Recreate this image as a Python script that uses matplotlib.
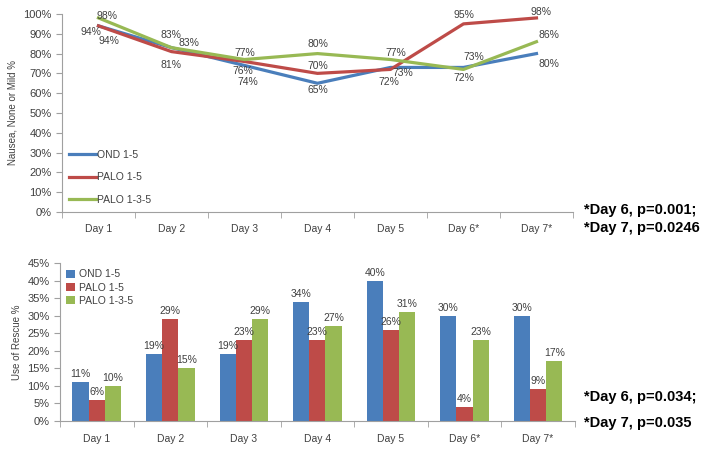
import matplotlib.pyplot as plt
import numpy as np
from matplotlib.ticker import FuncFormatter, FixedLocator

plt.rcParams['font.family'] = ['Liberation Sans', 'DejaVu Sans']

days = ['Day 1', 'Day 2', 'Day 3', 'Day 4', 'Day 5', 'Day 6*', 'Day 7*']
series = ['OND 1-5', 'PALO 1-5', 'PALO 1-3-5']
colors = ['#4a7ebb', '#be4b48', '#98b954']

# nausea none or mild, %
nausea_ond = [94, 83, 74, 65, 73, 73, 80]
nausea_palo = [94, 81, 76, 70, 72, 95, 98]
nausea_palo135 = [98, 83, 77, 80, 77, 72, 86]

# use of rescue, %
rescue_ond = [11, 19, 19, 34, 40, 30, 30]
rescue_palo = [6, 29, 23, 23, 26, 4, 9]
rescue_palo135 = [10, 15, 29, 27, 31, 23, 17]

# label offsets in pixels (dx, dy) for the line chart
line_offsets = [
    [(10, -15), (17, 5), (3, -17), (0, -7), (12, -6), (10, 10), (12, -10)],
    [(-8, -6), (0, -13), (-2, -10), (0, 7), (-2, -13), (0, 9), (5, 6)],
    [(9, 2), (-1, 13), (0, 7), (0, 10), (5, 7), (0, -9), (12, 7)],
]

tick_color = '#404040'
spine_color = '#a0a0a0'
pct = FuncFormatter(lambda v, p: f'{v:.0f}%')


def style_axes(ax):
    n = len(days)
    ax.set_xlim(-0.5, n - 0.5)
    ax.set_xticks(range(n))
    ax.set_xticklabels(days)
    ax.xaxis.set_minor_locator(FixedLocator(np.arange(-0.5, n, 1.0)))
    ax.tick_params(axis='x', which='major', length=0, pad=9, labelsize=7.5, colors=tick_color)
    ax.tick_params(axis='x', which='minor', length=4, direction='out', color=spine_color)
    ax.tick_params(axis='y', length=4, direction='out', color=spine_color, labelsize=8,
                   colors=tick_color)
    ax.yaxis.set_major_formatter(pct)
    for s in ['top', 'right']:
        ax.spines[s].set_visible(False)
    for s in ['left', 'bottom']:
        ax.spines[s].set_color(spine_color)


fig = plt.figure(figsize=(7.14, 4.51), dpi=100)

# top: line chart
ax1 = fig.add_axes([0.0868, 0.530, 0.7157, 0.439])
x = np.arange(len(days))
for vals, col, name, offs in zip([nausea_ond, nausea_palo, nausea_palo135], colors, series,
                                 line_offsets):
    ax1.plot(x, vals, color=col, lw=2.3, label=name)
    for xi, v, (dx, dy) in zip(x, vals, offs):
        ax1.annotate(f'{v}%', (xi, v), xytext=(dx, dy), textcoords='offset pixels',
                     ha='center', va='center', fontsize=7.5, color=tick_color)
ax1.set_ylim(0, 100)
ax1.set_yticks(range(0, 101, 10))
style_axes(ax1)
ax1.set_ylabel('Nausea, None or Mild %', fontsize=7, color=tick_color, labelpad=4)
ax1.legend(loc='lower left', bbox_to_anchor=(0.0, 0.0), frameon=False, fontsize=7.5,
           handlelength=2.6, labelspacing=1.2, handletextpad=0.1, borderaxespad=0.3,
           labelcolor=tick_color)

# bottom: bar chart
ax2 = fig.add_axes([0.084, 0.0665, 0.721, 0.350])
w = 0.22
for i, (vals, col, name) in enumerate(zip([rescue_ond, rescue_palo, rescue_palo135], colors, series)):
    xs = x + (i - 1) * w
    ax2.bar(xs, vals, width=w, color=col, label=name)
    for xi, v in zip(xs, vals):
        ax2.annotate(f'{v}%', (xi, v), xytext=(0, 3), textcoords='offset pixels',
                     ha='center', va='bottom', fontsize=7.5, color=tick_color)
ax2.set_ylim(0, 45)
ax2.set_yticks(range(0, 46, 5))
style_axes(ax2)
ax2.set_ylabel('Use of Rescue %', fontsize=7, color=tick_color, labelpad=4)
ax2.legend(loc='upper left', frameon=False, fontsize=7.5, handlelength=0.8, handleheight=0.8,
           labelspacing=0.3, handletextpad=0.4, borderaxespad=0.2, labelcolor=tick_color)

# p-value notes
note = dict(fontsize=10.5, fontweight='bold', color='black', ha='left', va='center')
fig.text(0.818, 1 - 210 / 451, '*Day 6, p=0.001;', **note)
fig.text(0.818, 1 - 228 / 451, '*Day 7, p=0.0246', **note)
fig.text(0.818, 1 - 397 / 451, '*Day 6, p=0.034;', **note)
fig.text(0.818, 1 - 423 / 451, '*Day 7, p=0.035', **note)

fig.savefig('out.png', dpi=100)
